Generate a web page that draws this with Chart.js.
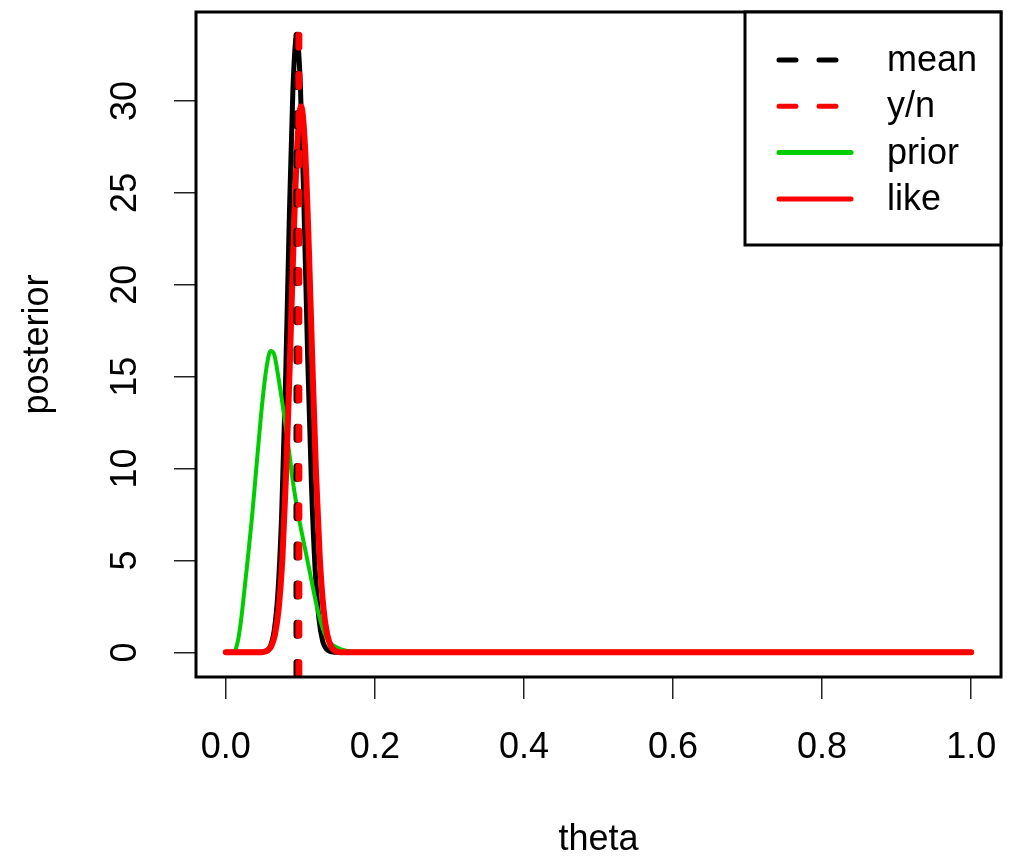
<!DOCTYPE html>
<html>
<head>
<meta charset="utf-8">
<script src="https://cdn.jsdelivr.net/npm/chart.js@4/dist/chart.umd.min.js"></script>
<style>
html,body{margin:0;padding:0;background:#fff;}
#wrap{width:1019px;height:863px;position:relative;}
</style>
</head>
<body>
<div id="wrap"><canvas id="c"></canvas></div>
<script>
// ---- data ----
const postTheta   = [0, 0.045, 0.05, 0.055, 0.06, 0.065, 0.07, 0.075, 0.08, 0.085, 0.09, 0.095, 0.1, 0.105, 0.11, 0.115, 0.12, 0.125, 0.13, 0.135, 0.14, 0.145, 0.15, 1];
const postDensity = [0, 0, 0.03, 0.1, 0.35, 1.2, 3.3, 7.6, 14.5, 23.3, 30.6, 33.5, 30.9, 24.0, 15.8, 9.0, 4.4, 1.8, 0.6, 0.18, 0.05, 0.01, 0, 0];

const priorTheta   = [0, 0.01, 0.015, 0.02, 0.025, 0.03, 0.035, 0.04, 0.045, 0.05, 0.055, 0.06, 0.065, 0.07, 0.075, 0.08, 0.085, 0.09, 0.095, 0.1, 0.105, 0.11, 0.115, 0.12, 0.125, 0.13, 0.135, 0.14, 0.15, 0.16, 0.17, 0.18, 1];
const priorDensity = [0, 0, 0.4, 1.6, 3.4, 5.3, 7.3, 9.6, 11.9, 14.0, 15.6, 16.4, 16.2, 15.1, 13.8, 12.4, 10.9, 9.3, 8.0, 6.9, 5.9, 4.9, 3.9, 2.9, 2.0, 1.3, 0.8, 0.5, 0.25, 0.1, 0.03, 0, 0];

const likeTheta   = [0, 0.046, 0.051, 0.056, 0.061, 0.066, 0.071, 0.076, 0.081, 0.086, 0.091, 0.096, 0.101, 0.106, 0.111, 0.116, 0.121, 0.126, 0.131, 0.136, 0.141, 0.146, 0.151, 0.156, 1];
const likeDensity = [0, 0, 0.03, 0.1, 0.34, 0.98, 2.4, 5.2, 9.8, 15.9, 22.5, 27.7, 29.7, 27.7, 22.5, 15.9, 9.8, 5.2, 2.4, 0.98, 0.34, 0.1, 0.03, 0, 0];

const meanValue = 0.0955;   // vertical dashed "mean"
const ynValue   = 0.098;    // vertical dashed "y/n"

const xTicks = [0, 0.2, 0.4, 0.6, 0.8, 1.0];
const xTickLabels = ['0.0', '0.2', '0.4', '0.6', '0.8', '1.0'];
const yTicks = [0, 5, 10, 15, 20, 25, 30];
const yTickLabels = ['0', '5', '10', '15', '20', '25', '30'];
const xRange = [-0.04, 1.04];
const yRange = [-1.34, 34.84];

const legendLabels = ['mean', 'y/n', 'prior', 'like'];
const xTitle = 'theta';
const yTitle = 'posterior';
// ---------------------------------------

const FONT = "'Liberation Sans', Arial, Helvetica, sans-serif";
const zip = (xs, ys) => xs.map((x, i) => ({x: x, y: ys[i]}));
const vline = v => [{x: v, y: yRange[0]}, {x: v, y: yRange[1]}];

const datasets = [
  {label: 'y/n', data: vline(ynValue), borderColor: '#ff0000', borderWidth: 7, borderDash: [12, 27.2], borderDashOffset: 36.7, borderCapStyle: 'round', legendDash: [17, 23], order: 0},
  {label: 'mean', data: vline(meanValue), borderColor: '#000000', borderWidth: 7, borderDash: [12, 27.2], borderDashOffset: 36.7, borderCapStyle: 'round', legendDash: [17, 23], order: 1},
  {label: 'like', data: zip(likeTheta, likeDensity), borderColor: '#ff0000', borderWidth: 6, order: 2, cubicInterpolationMode: 'monotone'},
  {label: 'prior', data: zip(priorTheta, priorDensity), borderColor: '#00cd00', borderWidth: 4, order: 3, cubicInterpolationMode: 'monotone'},
  {label: 'posterior', data: zip(postTheta, postDensity), borderColor: '#000000', borderWidth: 5, order: 4, cubicInterpolationMode: 'monotone'}
];
datasets.forEach(d => { d.pointRadius = 0; d.fill = false; d.showLine = true; if (!d.borderCapStyle) d.borderCapStyle = 'round'; d.borderJoinStyle = 'round'; });

const bgPlugin = {
  id: 'bg',
  beforeDraw(chart) {
    const ctx = chart.ctx;
    ctx.save(); ctx.fillStyle = '#fff'; ctx.fillRect(0, 0, chart.width, chart.height); ctx.restore();
  }
};

const framePlugin = {
  id: 'frame',
  afterDatasetsDraw(chart) {
    const ctx = chart.ctx, a = chart.chartArea;
    ctx.save();
    ctx.strokeStyle = '#000'; ctx.lineWidth = 3;
    ctx.strokeRect(a.left, a.top, a.right - a.left, a.bottom - a.top);
    ctx.restore();
  }
};

const legendPlugin = {
  id: 'rlegend',
  afterDraw(chart) {
    const ctx = chart.ctx, a = chart.chartArea;
    ctx.save();
    const bx = 745, by = a.top, bw = a.right - bx, bh = 245 - a.top;
    ctx.fillStyle = '#fff';
    ctx.fillRect(bx, by, bw, bh);
    ctx.strokeStyle = '#000'; ctx.lineWidth = 3;
    ctx.strokeRect(bx, by, bw, bh);
    ctx.font = '36px ' + FONT;
    ctx.textAlign = 'left'; ctx.textBaseline = 'alphabetic';
    legendLabels.forEach((lab, i) => {
      const ds = chart.data.datasets.find(d => d.label === lab);
      const y = 60 + 46.3 * i;
      ctx.beginPath();
      ctx.strokeStyle = ds.borderColor;
      ctx.lineWidth = 5;
      ctx.lineCap = 'round';
      ctx.setLineDash(ds.legendDash || []);
      ctx.moveTo(779, y); ctx.lineTo(851, y);
      ctx.stroke();
      ctx.setLineDash([]);
      ctx.fillStyle = '#000';
      ctx.fillText(lab, 887, y + 11);
    });
    ctx.restore();
  }
};

new Chart(document.getElementById('c'), {
  type: 'line',
  data: {datasets: datasets},
  options: {
    responsive: true,
    maintainAspectRatio: false,
    animation: false,
    layout: {padding: {left: 0, top: 12, right: 18, bottom: 0}},
    plugins: {legend: {display: false}, tooltip: {enabled: false}},
    scales: {
      x: {
        type: 'linear', position: 'bottom',
        min: xRange[0], max: xRange[1],
        afterBuildTicks: s => { s.ticks = xTicks.map(v => ({value: v})); },
        afterFit: s => { s.height = 186; s.paddingLeft = 0; s.paddingRight = 0; s.paddingTop = 0; s.paddingBottom = 0; },
        border: {display: false},
        grid: {drawOnChartArea: false, drawTicks: true, tickLength: 22, color: '#222', lineWidth: 1.5},
        ticks: {
          autoSkip: false, maxRotation: 0, minRotation: 0, padding: 27, color: '#000',
          font: {family: FONT, size: 36, lineHeight: 1.2},
          callback: (v) => { const i = xTicks.findIndex(t => Math.abs(t - v) < 1e-9); return i >= 0 ? xTickLabels[i] : ''; }
        },
        title: {display: true, text: xTitle, color: '#000', font: {family: FONT, size: 36, lineHeight: 1.2}, padding: {top: 0, bottom: 1}}
      },
      y: {
        type: 'linear', position: 'left',
        min: yRange[0], max: yRange[1],
        afterBuildTicks: s => { s.ticks = yTicks.map(v => ({value: v})); },
        afterFit: s => { s.width = 196; s.paddingLeft = 0; s.paddingRight = 0; s.paddingTop = 0; s.paddingBottom = 0; },
        border: {display: false},
        grid: {drawOnChartArea: false, drawTicks: true, tickLength: 22, color: '#222', lineWidth: 1.5},
        ticks: {
          autoSkip: false, minRotation: 90, maxRotation: 90, crossAlign: 'center', padding: 28, color: '#000',
          font: {family: FONT, size: 36, lineHeight: 1.2},
          callback: (v) => { const i = yTicks.findIndex(t => Math.abs(t - v) < 1e-9); return i >= 0 ? yTickLabels[i] : ''; }
        },
        title: {display: true, text: yTitle, color: '#000', font: {family: FONT, size: 36, lineHeight: 1.2}, padding: {top: 16, bottom: 0}}
      }
    }
  },
  plugins: [bgPlugin, framePlugin, legendPlugin]
});
</script>
</body>
</html>
